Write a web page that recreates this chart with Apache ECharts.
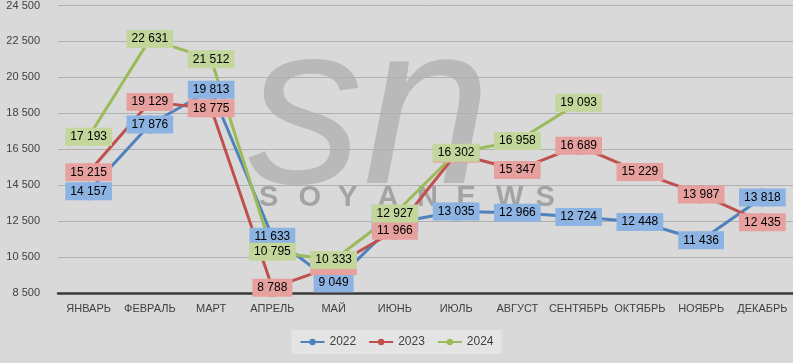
<!DOCTYPE html>
<html><head><meta charset="utf-8">
<script src="https://cdn.jsdelivr.net/npm/echarts@6/dist/echarts.min.js"></script>
<style>html,body{margin:0;padding:0;background:#d9d9d9;}#c{width:793px;height:363px;}</style>
</head><body><div id="c"></div>
<script>
const months = ['ЯНВАРЬ','ФЕВРАЛЬ','МАРТ','АПРЕЛЬ','МАЙ','ИЮНЬ','ИЮЛЬ','АВГУСТ','СЕНТЯБРЬ','ОКТЯБРЬ','НОЯБРЬ','ДЕКАБРЬ'];
const s2022 = [14157,17876,19813,11633,9049,12400,13035,12966,12724,12448,11436,13818];
const s2023 = [15215,19129,18775,8788,10000,11966,16250,15347,16689,15229,13987,12435];
const s2024 = [17193,22631,21512,10795,10333,12927,16302,16958,19093,null,null,null];
const yMin = 8500, yMax = 24500, yStep = 2000;

const fmt = v => String(v).replace(/\B(?=(\d{3})+(?!\d))/g, ' ');
const font = '"Liberation Sans", Arial, sans-serif';

function lineSeries(name, data, color, z) {
  return {
    name, type: 'line', data, z,
    symbol: 'circle', symbolSize: 18,
    lineStyle: { color, width: 3 },
    itemStyle: { color },
    label: { show: false },
    emphasis: { disabled: true }
  };
}
function labelSeries(name, data, bg, z) {
  return {
    name: name + ' labels', type: 'line', data, z,
    symbol: 'circle', symbolSize: 1, showSymbol: true,
    itemStyle: { color: 'rgba(0,0,0,0)' },
    lineStyle: { width: 0, opacity: 0 },
    label: {
      show: true, position: 'inside',
      formatter: p => fmt(p.value),
      color: '#000', fontFamily: font, fontSize: 12,
      backgroundColor: bg, padding: [3, 5, 3, 5]
    },
    emphasis: { disabled: true },
    silent: true
  };
}

const letters = 'SOYANEWS'.split('').map((ch, i) => ({
  type: 'text', left: 259 + i * 39.5, top: 183, z: -10, silent: true,
  style: { text: ch, font: 'bold 29px "Liberation Sans", sans-serif', fill: '#a3a3a3' }
}));

const chart = echarts.init(document.getElementById('c'), null, { renderer: 'canvas' });
chart.setOption({
  backgroundColor: '#d9d9d9',
  animation: false,
  graphic: [
    { type: 'text', left: 248, top: 4, z: -10, silent: true,
      style: { text: 'sn', font: 'italic 230px "Liberation Sans", sans-serif', fill: '#b9b9b9' } }
  ].concat(letters),
  grid: { left: 58, right: 0, top: 5, bottom: 70, containLabel: false },
  legend: {
    bottom: 9, left: 'center',
    data: ['2022', '2023', '2024'],
    backgroundColor: '#e4e4e4', padding: [6, 8, 6, 8],
    itemWidth: 24, itemHeight: 8, itemGap: 12,
    textStyle: { color: '#404040', fontFamily: font, fontSize: 12 }
  },
  xAxis: {
    type: 'category', data: months, boundaryGap: true,
    axisLine: { lineStyle: { color: '#3a3a3a', width: 2.5 } },
    axisTick: { show: false },
    axisLabel: { color: '#404040', fontFamily: font, fontSize: 11, margin: 10, interval: 0 }
  },
  yAxis: {
    type: 'value', min: yMin, max: yMax, interval: yStep,
    axisLine: { show: false }, axisTick: { show: false },
    splitLine: { lineStyle: { color: '#b0b0b0', width: 1 } },
    axisLabel: { color: '#404040', fontFamily: font, fontSize: 11, margin: 18, formatter: v => fmt(v) }
  },
  series: [
    lineSeries('2022', s2022, '#4f81bd', 2),
    lineSeries('2023', s2023, '#c0504d', 3),
    lineSeries('2024', s2024, '#9bbb59', 4),
    labelSeries('2022', s2022, '#8db3e2', 10),
    labelSeries('2023', s2023, '#e6a09e', 11),
    labelSeries('2024', s2024, '#c3d69b', 12)
  ]
});
</script></body></html>
